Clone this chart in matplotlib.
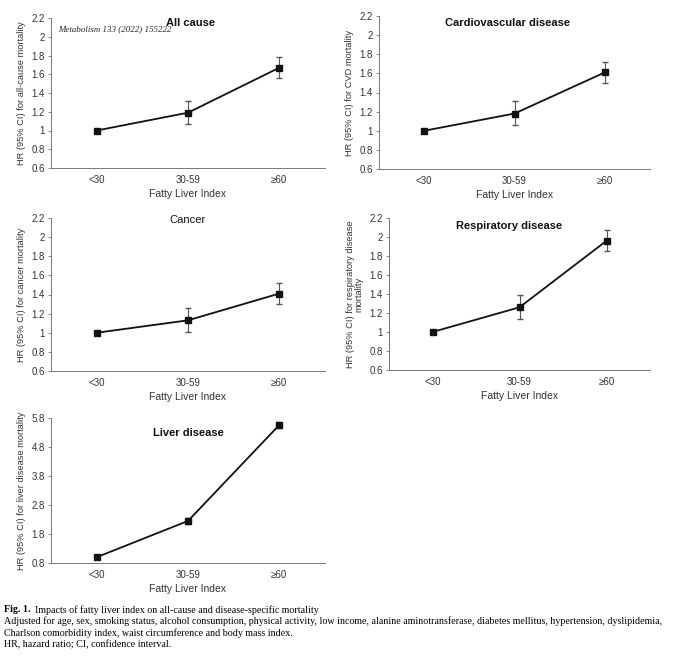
import matplotlib
matplotlib.use("Agg")
import matplotlib.pyplot as plt

plt.rcParams['font.family'] = ['Liberation Sans', 'DejaVu Sans']

# data
groups = ['<30', '30-59', '≥60']

titles = ['All cause', 'Cardiovascular disease', 'Cancer',
          'Respiratory disease', 'Liver disease']
ylabels = ['HR (95% CI) for all-cause mortality',
           'HR (95% CI) for CVD mortality',
           'HR (95% CI) for cancer mortality',
           'HR (95% CI) for respiratory disease\nmortality',
           'HR (95% CI) for liver disease mortality']

hr_all = [1.0, 1.19, 1.67]
lo_all = [1.0, 1.07, 1.56]
hi_all = [1.0, 1.32, 1.78]

hr_cvd = [1.0, 1.18, 1.61]
lo_cvd = [1.0, 1.06, 1.50]
hi_cvd = [1.0, 1.31, 1.72]

hr_cancer = [1.0, 1.13, 1.41]
lo_cancer = [1.0, 1.01, 1.30]
hi_cancer = [1.0, 1.26, 1.52]

hr_resp = [1.0, 1.26, 1.96]
lo_resp = [1.0, 1.14, 1.85]
hi_resp = [1.0, 1.39, 2.07]

hr_liver = [1.0, 2.25, 5.56]
lo_liver = [1.0, 2.16, 5.46]
hi_liver = [1.0, 2.35, 5.66]

yticks_std = [0.6, 0.8, 1, 1.2, 1.4, 1.6, 1.8, 2, 2.2]
yticks_liver = [0.8, 1.8, 2.8, 3.8, 4.8, 5.8]

W, H = 680, 660
fig = plt.figure(figsize=(W / 100, H / 100), dpi=100)


def px_axes(l, t, r, b):
    return fig.add_axes([l / W, 1 - b / H, (r - l) / W, (b - t) / H])


boxes = [(51, 18, 325, 168), (379, 16, 650, 169), (51, 218, 325, 371),
         (389, 218, 650, 370), (51, 418, 325, 563)]
series = [(hr_all, lo_all, hi_all), (hr_cvd, lo_cvd, hi_cvd),
          (hr_cancer, lo_cancer, hi_cancer), (hr_resp, lo_resp, hi_resp),
          (hr_liver, lo_liver, hi_liver)]
title_pos = [(0.51, 0.965), (0.476, 0.954), (0.50, 0.985), (0.46, 0.947), (0.50, 0.90)]
title_w = ['bold', 'bold', 'normal', 'bold', 'bold']
tc = '#333333'

for i, box in enumerate(boxes):
    ax = px_axes(*box)
    hr, lo, hi = series[i]
    x = range(len(groups))
    err = [[h - l for h, l in zip(hr, lo)], [u - h for h, u in zip(hr, hi)]]
    ax.errorbar(x, hr, yerr=err, color='#111111', lw=1.3, marker='s', ms=5,
                capsize=2, elinewidth=0.8, ecolor='#555555')
    ax.set_xlim(-0.5, 2.5)
    if i == 4:
        ax.set_ylim(0.8, 5.8)
        ax.set_yticks(yticks_liver)
        ax.set_yticklabels([str(v) for v in yticks_liver])
    else:
        ax.set_ylim(0.6, 2.2)
        ax.set_yticks(yticks_std)
        ax.set_yticklabels(['0.6', '0.8', '1', '1.2', '1.4', '1.6', '1.8', '2', '2.2'])
    ax.set_xticks(list(x))
    ax.set_xticklabels(groups)
    ax.tick_params(axis='x', length=0, pad=5, labelsize=7, labelcolor=tc)
    ax.tick_params(axis='y', length=2.5, width=0.6, color='#777777',
                   labelsize=7, labelcolor=tc, pad=2)
    for s in ['top', 'right']:
        ax.spines[s].set_visible(False)
    for s in ['left', 'bottom']:
        ax.spines[s].set_color('#777777')
        ax.spines[s].set_linewidth(0.7)
    ax.set_xlabel('Fatty Liver Index', fontsize=7.5, color=tc, labelpad=3)
    ax.set_ylabel(ylabels[i], fontsize=6.7, color=tc, labelpad=4,
                  linespacing=1.0)
    ax.text(title_pos[i][0], title_pos[i][1], titles[i], transform=ax.transAxes,
            ha='center', va='center', fontsize=8, fontweight=title_w[i],
            color='#111111')

fig.text(58 / W, 1 - 29 / H, 'Metabolism 133 (2022) 155222', fontsize=6.4,
         family='Liberation Serif', style='italic', color='#222222',
         va='center')

serif = 'Liberation Serif'
cs = 7.2
fig.text(4 / W, 1 - 610 / H, 'Fig. 1.', fontsize=cs, family=serif,
         fontweight='bold', va='center')
fig.text(35 / W, 1 - 610 / H,
         'Impacts of fatty liver index on all-cause and disease-specific mortality',
         fontsize=cs, family=serif, va='center')
fig.text(4 / W, 1 - 621 / H,
         'Adjusted for age, sex, smoking status, alcohol consumption, physical activity, '
         'low income, alanine aminotransferase, diabetes mellitus, hypertension, dyslipidemia,',
         fontsize=cs, family=serif, va='center')
fig.text(4 / W, 1 - 633 / H,
         'Charlson comorbidity index, waist circumference and body mass index.',
         fontsize=cs, family=serif, va='center')
fig.text(4 / W, 1 - 645 / H, 'HR, hazard ratio; CI, confidence interval.',
         fontsize=cs, family=serif, va='center')

fig.savefig('out.png', dpi=100)
